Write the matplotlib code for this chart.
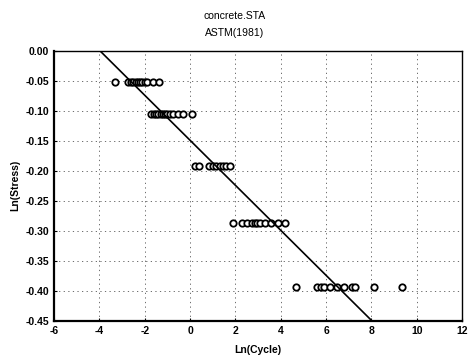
import numpy as np
import matplotlib
matplotlib.use("Agg")
import matplotlib.pyplot as plt

plt.rcParams['font.family'] = ['Liberation Sans Narrow', 'Liberation Sans', 'DejaVu Sans']
plt.rcParams['axes.unicode_minus'] = False

# fatigue test data: ln(stress ratio) levels and ln(cycles to failure)
stress_levels = [-0.0513, -0.1054, -0.1924, -0.2877, -0.393]
cycles_s1 = [-3.32, -2.75, -2.62, -2.5, -2.4, -2.3, -2.2, -2.1, -2.0, -1.9, -1.62, -1.38]
cycles_s2 = [-1.72, -1.6, -1.5, -1.4, -1.3, -1.2, -1.1, -1.0, -0.9, -0.75, -0.55, -0.3, 0.1]
cycles_s3 = [0.2, 0.4, 0.85, 1.0, 1.15, 1.3, 1.45, 1.6, 1.75]
cycles_s4 = [1.9, 2.28, 2.5, 2.72, 2.87, 2.97, 3.09, 3.31, 3.58, 3.9, 4.21]
cycles_s5 = [4.67, 5.62, 5.77, 5.92, 6.18, 6.48, 6.81, 7.14, 7.28, 8.12, 9.36]

# regression line ln(S) = a + b*ln(N)
fit_intercept = -0.149
fit_slope = -0.0375

x_ticks = list(range(-6, 13, 2))
y_ticks = [0.0, -0.05, -0.10, -0.15, -0.20, -0.25, -0.30, -0.35, -0.40, -0.45]

fig = plt.figure(figsize=(4.70, 3.63), dpi=100)
ax = fig.add_axes([0.115, 0.116, 0.868, 0.744])

for ys, xs in zip(stress_levels, [cycles_s1, cycles_s2, cycles_s3, cycles_s4, cycles_s5]):
    ax.plot(xs, [ys] * len(xs), 'o', mfc='white', mec='black', ms=4.6, mew=1.3, zorder=3)

xl = np.array([-6, 12])
ax.plot(xl, fit_intercept + fit_slope * xl, color='black', lw=1.2, zorder=4)

ax.set_xlim(-6, 12)
ax.set_ylim(-0.45, 0.0)
ax.set_xticks(x_ticks)
ax.set_yticks(y_ticks)
ax.set_yticklabels([f"{v:.2f}" for v in y_ticks])
ax.grid(True, color='#555555', linestyle=(0, (1.5, 4)), linewidth=0.6)
ax.tick_params(direction='in', length=2, width=0.8, labelsize=7.5)
for lab in ax.get_xticklabels() + ax.get_yticklabels():
    lab.set_fontweight('bold')
for sp in ax.spines.values():
    sp.set_linewidth(1.0)
ax.spines['left'].set_linewidth(1.6)
ax.spines['bottom'].set_linewidth(1.6)

ax.set_xlabel("Ln(Cycle)", fontsize=7.5, fontweight='bold', labelpad=7)
ax.set_ylabel("Ln(Stress)", fontsize=7.5, fontweight='bold', labelpad=4)
fig.text(0.5, 0.955, "concrete.STA", ha='center', va='center', fontsize=7.5)
fig.text(0.5, 0.91, "ASTM(1981)", ha='center', va='center', fontsize=7.5)

fig.savefig("out.png", dpi=100)
